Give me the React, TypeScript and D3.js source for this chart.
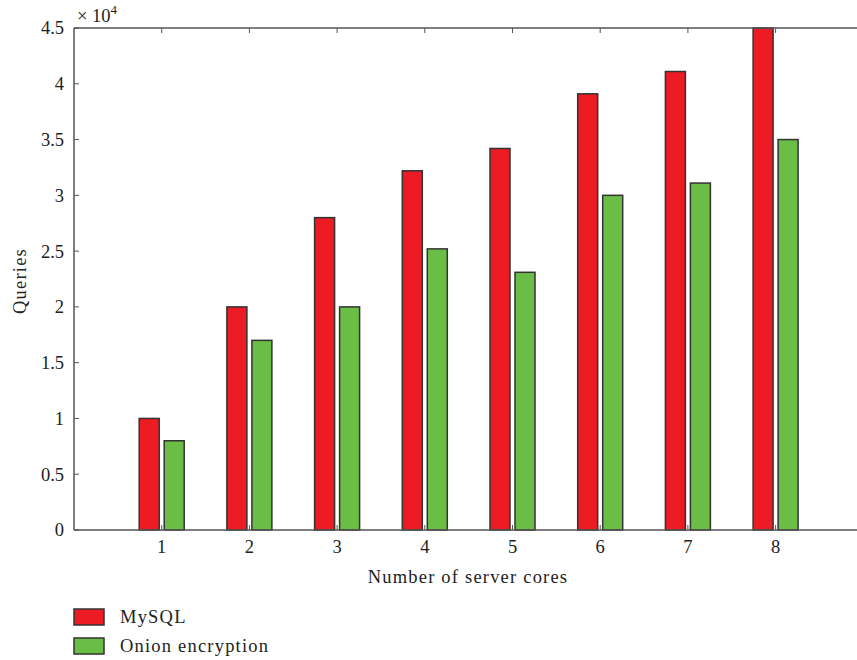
import React from "react";
import * as d3 from "d3";

const categories = ["1", "2", "3", "4", "5", "6", "7", "8"];
const mysql = [1.0, 2.0, 2.8, 3.22, 3.42, 3.91, 4.11, 4.5];
const onion = [0.8, 1.7, 2.0, 2.52, 2.31, 3.0, 3.11, 3.5];
const yTicks = [0, 0.5, 1, 1.5, 2, 2.5, 3, 3.5, 4, 4.5];
const seriesNames = ["MySQL", "Onion encryption"];
const colors = ["#ED1C24", "#6ABD45"];

export default function App() {
  const W = 857, H = 660;
  const left = 74, top = 28, bottom = 530;
  const right = left + 9 * 87.7;
  const x = d3.scaleLinear().domain([0, 9]).range([left, right]);
  const y = d3.scaleLinear().domain([0, 4.5]).range([bottom, top]);
  const barW = 20;
  const off = 12.5;
  const axisColor = "#555";
  const font = "'Liberation Serif', 'Times New Roman', serif";
  const series = [mysql, onion];
  const fs = 18.5;
  const ls = 1.2;
  return (
    <svg width={W} height={H} style={{ position: "absolute", left: 0, top: 0 }} fontFamily={font}>
      <rect width={W} height={H} fill="#fff" />
      {series.map((vals, si) =>
        vals.map((v, i) => {
          const cx = x(i + 1) + (si === 0 ? -off : off);
          return (
            <rect key={si + "-" + i} x={cx - barW / 2} y={y(v)} width={barW} height={y(0) - y(v)}
              fill={colors[si]} stroke="#333" strokeWidth={1.5} />
          );
        })
      )}
      <line x1={left} x2={right} y1={top} y2={top} stroke={axisColor} strokeWidth={1.5} />
      <line x1={left} x2={right} y1={bottom} y2={bottom} stroke={axisColor} strokeWidth={1.5} />
      <line x1={left} x2={left} y1={top} y2={bottom} stroke={axisColor} strokeWidth={1.5} />
      <line x1={right} x2={right} y1={top} y2={bottom} stroke={axisColor} strokeWidth={1.5} />
      {yTicks.map((t) => (
        <g key={t}>
          <line x1={left} x2={left + 5} y1={y(t)} y2={y(t)} stroke={axisColor} strokeWidth={1} />
          <line x1={right} x2={right - 5} y1={y(t)} y2={y(t)} stroke={axisColor} strokeWidth={1} />
          <text x={left - 10} y={y(t)} dy="0.35em" textAnchor="end" fontSize={fs} fill="#222">{t}</text>
        </g>
      ))}
      {categories.map((c, i) => (
        <g key={c}>
          <line x1={x(i + 1)} x2={x(i + 1)} y1={bottom} y2={bottom - 5} stroke={axisColor} strokeWidth={1} />
          <line x1={x(i + 1)} x2={x(i + 1)} y1={top} y2={top + 5} stroke={axisColor} strokeWidth={1} />
          <text x={x(i + 1)} y={553} textAnchor="middle" fontSize={fs} fill="#222">{c}</text>
        </g>
      ))}
      <text x={77} y={22} fontSize={fs} fill="#222">× 10<tspan dy={-8} fontSize={13}>4</tspan></text>
      <text transform={`translate(26,${(top + bottom) / 2 + 2}) rotate(-90)`} textAnchor="middle" fontSize={fs} letterSpacing={ls} fill="#222">Queries</text>
      <text x={468} y={583} textAnchor="middle" fontSize={fs} letterSpacing={ls} fill="#222">Number of server cores</text>
      {seriesNames.map((n, i) => (
        <g key={n}>
          <rect x={74} y={609 + i * 29} width={30} height={16} fill={colors[i]} stroke="#333" strokeWidth={1.5} />
          <text x={120} y={623 + i * 29} fontSize={fs} letterSpacing={ls} fill="#222">{n}</text>
        </g>
      ))}
    </svg>
  );
}
